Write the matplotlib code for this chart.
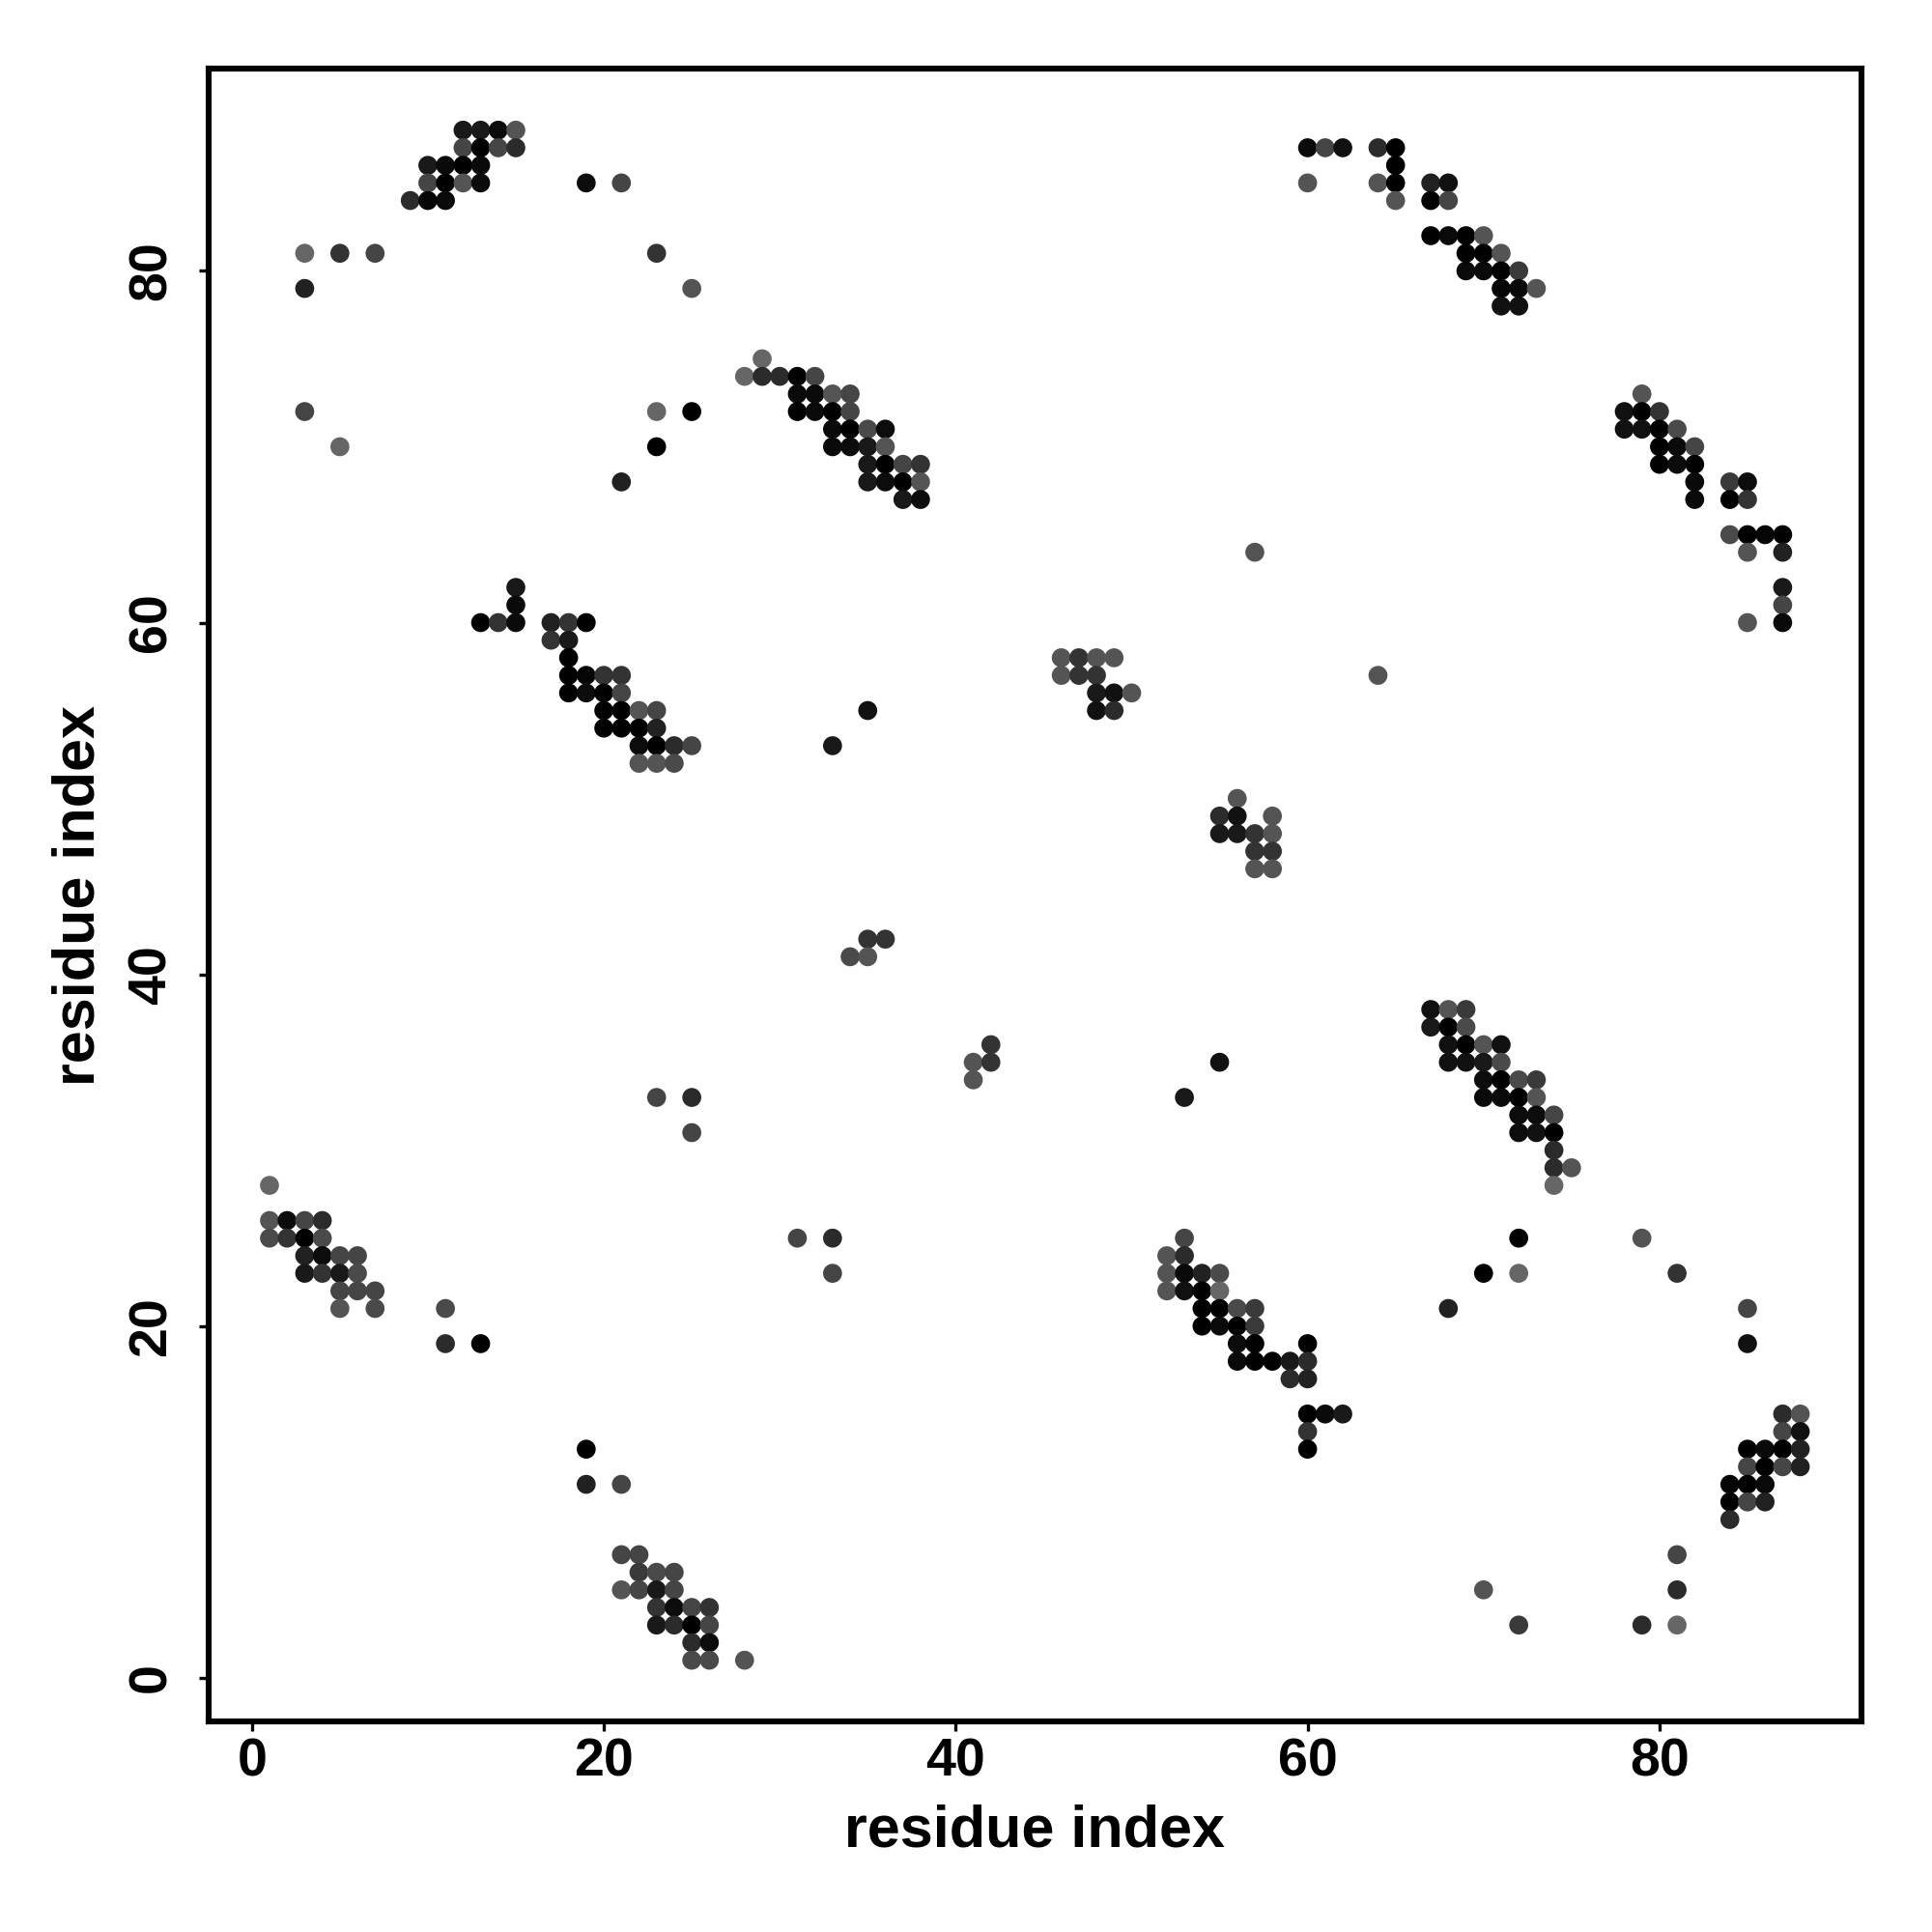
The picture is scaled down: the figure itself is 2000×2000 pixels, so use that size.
import matplotlib
matplotlib.use("Agg")
import matplotlib.pyplot as plt
import numpy as np

plt.rcParams['font.family'] = ['Liberation Sans', 'DejaVu Sans']
plt.rcParams['font.weight'] = 'bold'

# residue index i (x)
res_i = [
    12, 13, 14, 15, 12, 13, 14, 15,
    10, 11, 12, 13, 10, 11, 12, 13, 9, 10, 11,
    19, 21, 3, 5, 7, 23, 3, 25,
    29, 28, 29, 30, 31, 32, 3, 23, 25, 5, 23, 21,
    31, 32, 33, 34, 31, 32, 33, 34, 33, 34, 35, 36, 33, 34, 35, 36, 35, 36, 37, 38, 35, 36, 37, 38, 37, 38,
    15, 15, 13, 14, 15, 17, 18, 19, 17, 18, 18, 18, 19, 20, 21, 18, 19, 20, 21, 20, 21, 22, 23, 20, 21, 22, 23, 22, 23, 24, 25, 22, 23, 24,
    46, 47, 48, 49, 46, 47, 48, 48, 49, 50, 48, 49, 35, 33, 64, 57, 56, 55, 56, 58, 55, 56, 57, 58, 57, 58, 57, 58, 35, 36, 34, 35, 42, 41, 42, 41, 55, 53, 23, 25, 25,
    60, 61, 62, 64, 65, 65, 60, 64, 65, 67, 68, 65, 67, 68, 67, 68, 69, 70, 69, 70, 71, 69, 70, 71, 72, 71, 72, 73, 71, 72,
    79, 78, 79, 80, 78, 79, 80, 81, 80, 81, 82, 80, 81, 82, 82, 84, 85, 82, 84, 85, 84, 85, 86, 87, 85, 87, 87, 87, 85, 87,
    67, 68, 69, 67, 68, 69, 68, 69, 70, 71, 68, 69, 70, 71, 70, 71, 72, 73, 70, 71, 72, 73, 72, 73, 74, 72, 73, 74, 74, 74, 75, 74,
    1, 1, 2, 3, 4, 1, 2, 3, 4, 3, 4, 5, 6, 3, 4, 5, 6, 5, 6, 7, 5, 7, 11, 11, 13, 19, 19, 21,
    21, 22, 22, 23, 24, 21, 22, 23, 24, 23, 24, 25, 26, 23, 24, 25, 26, 25, 26, 25, 26, 28,
    31, 33, 33, 53, 52, 53, 52, 53, 54, 55, 52, 53, 54, 55, 54, 55, 56, 57, 54, 55, 56, 57, 56, 57, 60, 56, 57, 58, 59, 60, 59, 60, 60, 61, 62, 60, 60,
    72, 79, 70, 72, 81, 68, 85, 85, 87, 88, 87, 88, 85, 86, 87, 88, 85, 86, 87, 88, 84, 85, 86, 84, 85, 86, 84, 81, 70, 81, 72, 79, 81,
]

# residue index j (y)
res_j = [
    88, 88, 88, 88, 87, 87, 87, 87,
    86, 86, 86, 86, 85, 85, 85, 85, 84, 84, 84,
    85, 85, 81, 81, 81, 81, 79, 79,
    75, 74, 74, 74, 74, 74, 72, 72, 72, 70, 70, 68,
    73, 73, 73, 73, 72, 72, 72, 72, 71, 71, 71, 71, 70, 70, 70, 70, 69, 69, 69, 69, 68, 68, 68, 68, 67, 67,
    62, 61, 60, 60, 60, 60, 60, 60, 59, 59, 58, 57, 57, 57, 57, 56, 56, 56, 56, 55, 55, 55, 55, 54, 54, 54, 54, 53, 53, 53, 53, 52, 52, 52,
    58, 58, 58, 58, 57, 57, 57, 56, 56, 56, 55, 55, 55, 53, 57, 64, 50, 49, 49, 49, 48, 48, 48, 48, 47, 47, 46, 46, 42, 42, 41, 41, 36, 35, 35, 34, 35, 33, 33, 33, 31,
    87, 87, 87, 87, 87, 86, 85, 85, 85, 85, 85, 84, 84, 84, 82, 82, 82, 82, 81, 81, 81, 80, 80, 80, 80, 79, 79, 79, 78, 78,
    73, 72, 72, 72, 71, 71, 71, 71, 70, 70, 70, 69, 69, 69, 68, 68, 68, 67, 67, 67, 65, 65, 65, 65, 64, 64, 62, 61, 60, 60,
    38, 38, 38, 37, 37, 37, 36, 36, 36, 36, 35, 35, 35, 35, 34, 34, 34, 34, 33, 33, 33, 33, 32, 32, 32, 31, 31, 31, 30, 29, 29, 28,
    28, 26, 26, 26, 26, 25, 25, 25, 25, 24, 24, 24, 24, 23, 23, 23, 23, 22, 22, 22, 21, 21, 21, 19, 19, 13, 11, 11,
    7, 7, 6, 6, 6, 5, 5, 5, 5, 4, 4, 4, 4, 3, 3, 3, 3, 2, 2, 1, 1, 1,
    25, 25, 23, 25, 24, 24, 23, 23, 23, 23, 22, 22, 22, 22, 21, 21, 21, 21, 20, 20, 20, 20, 19, 19, 19, 18, 18, 18, 18, 18, 17, 17, 15, 15, 15, 14, 13,
    25, 25, 23, 23, 23, 21, 21, 19, 15, 15, 14, 14, 13, 13, 13, 13, 12, 12, 12, 12, 11, 11, 11, 10, 10, 10, 9, 7, 5, 5, 3, 3, 3,
]

# grey level of each contact point (0 = black)
grey = [
    .10, .10, .05, .33, .27, 0, .27, .17,
    .10, .04, 0, .04, .27, 0, .33, .04, .17, .02, .04,
    .05, .27, .40, .20, .27, .20, .13, .33,
    .40, .40, .17, .17, 0, .27, .27, .40, 0, .40, 0, .13,
    .04, .04, .33, .27, 0, .04, 0, .27, .04, 0, .29, .05, .04, .05, .10, .33, .10, 0, .27, .20, .10, .05, 0, .33, .10, .05,
    .10, .04, 0, .20, .04, .13, .20, 0, .20, .10, 0, 0, .02, .20, .20, 0, .05, 0, .27, 0, 0, .33, .27, 0, 0, 0, .13, .05, 0, .17, .27, .33, .33, .29,
    .33, .20, .33, .33, .33, .20, .20, .10, .07, .33, .07, .17, .07, .10, .33, .33, .33, .17, .07, .33, .10, .10, .20, .33, .20, .20, .33, .33, .20, .20, .29, .33, .20, .33, .20, .33, .07, .10, .27, .17, .27,
    .04, .27, .07, .17, 0, 0, .33, .33, 0, .13, .07, .33, 0, .27, 0, .04, 0, .33, 0, 0, .33, .04, .04, 0, .23, .02, .04, .33, .07, .07,
    .33, .07, 0, .20, .07, .07, 0, .29, 0, .04, .27, 0, .05, 0, .04, .23, .05, .04, 0, .20, .29, 0, .02, 0, .33, .13, .10, .27, .33, .04,
    .07, .33, .23, .10, 0, .29, .07, 0, .33, .07, .07, .07, .10, .29, .05, 0, .29, .23, .04, .04, 0, .33, .05, .05, .27, .05, .07, 0, .17, .17, .33, .40,
    .40, .33, .05, .27, .17, .29, .20, 0, .29, .13, .05, .27, .27, .10, .20, .10, .29, .27, .27, .27, .33, .29, .29, .17, 0, 0, .13, .27,
    .27, .27, .23, .29, .27, .33, .27, .10, .27, .20, .05, .27, .20, .10, .17, 0, .27, .17, .05, .29, .29, .33,
    .27, .17, .27, .27, .33, .17, .33, .04, .13, .29, .33, .07, 0, .40, 0, 0, .29, .23, 0, .04, 0, .23, .05, 0, 0, .04, 0, 0, .10, .17, .17, .13, 0, .04, .10, .20, 0,
    0, .33, 0, .40, .20, .13, .27, .07, .17, .33, .27, .07, 0, .04, 0, .13, .27, 0, .27, .13, .02, 0, .04, 0, .27, .13, .17, .27, .33, .17, .23, .17, .40,
]

ticks = [0, 20, 40, 60, 80]
axis_label = "residue index"

assert len(res_i) == len(res_j) == len(grey), (len(res_i), len(res_j), len(grey))

fig = plt.figure(figsize=(10, 10), dpi=200)
ax = fig.add_axes([0.1078, 0.109, 0.8557, 0.8553])

ax.scatter(res_i, res_j, c=grey, cmap='gray', vmin=0, vmax=1, s=50,
           linewidths=0, zorder=3)

ax.set_xlim(-2.48, 91.48)
ax.set_ylim(-2.48, 91.48)
ax.set_xticks(ticks)
ax.set_yticks(ticks)
ax.set_xticklabels([str(t) for t in ticks])
ax.set_yticklabels([str(t) for t in ticks], rotation=90, va='center')

for sp in ax.spines.values():
    sp.set_linewidth(2.2)
    sp.set_color('black')

ax.tick_params(axis='both', direction='out', length=3.5, width=1.2,
               labelsize=20, colors='black')
ax.tick_params(axis='x', pad=2.5)
ax.tick_params(axis='y', pad=8)
for lab in ax.get_xticklabels() + ax.get_yticklabels():
    lab.set_fontweight('bold')

fig.text(0.5355, 0.044, axis_label, ha='center', va='baseline',
         fontsize=22, fontweight='bold')
fig.text(0.049, 0.5365, axis_label, ha='center', va='baseline',
         rotation=90, rotation_mode='anchor', fontsize=22, fontweight='bold')

fig.savefig("out.png", dpi=200, facecolor='white')
